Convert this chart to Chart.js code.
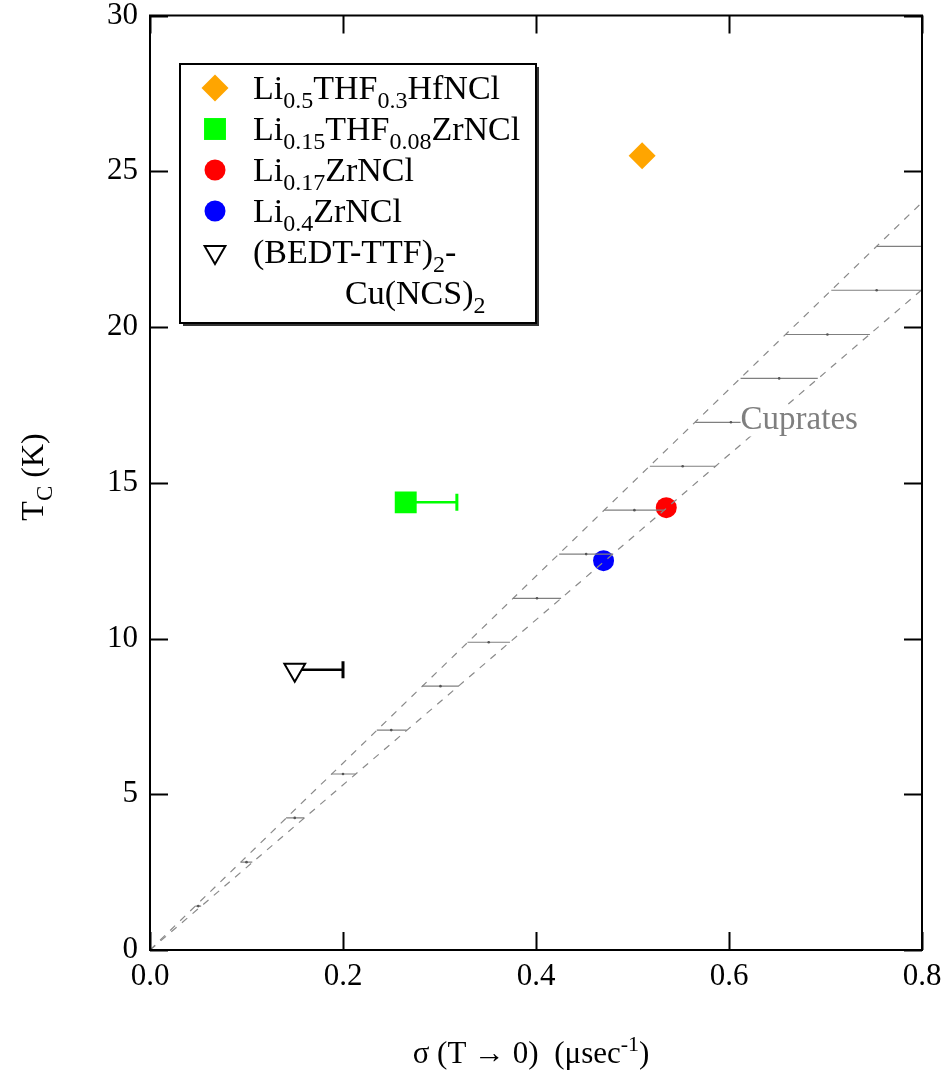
<!DOCTYPE html>
<html lang="en">
<head>
<meta charset="UTF-8">
<title>Tc versus muon relaxation rate</title>
<script src="https://cdn.jsdelivr.net/npm/chart.js"></script>
<style>
  body { margin: 0; background: #fff; }
  #wrap { width: 948px; height: 1074px; }
</style>
</head>
<body>
<div id="wrap"><canvas id="uemuraChart" width="948" height="1074"></canvas></div>
<script>
// sample legend text: each entry is a list of lines, each line a list of [text, 'sub'|undefined]
const sampleLabels = [
  [[['Li'], ['0.5', 'sub'], ['THF'], ['0.3', 'sub'], ['HfNCl']]],
  [[['Li'], ['0.15', 'sub'], ['THF'], ['0.08', 'sub'], ['ZrNCl']]],
  [[['Li'], ['0.17', 'sub'], ['ZrNCl']]],
  [[['Li'], ['0.4', 'sub'], ['ZrNCl']]],
  [[['(BEDT-TTF)'], ['2', 'sub'], ['-']], [['Cu(NCS)'], ['2', 'sub']]]
];
const sampleSigma = [0.51, 0.265, 0.535, 0.47, 0.15];
const sampleTc = [25.5, 14.37, 14.2, 12.5, 9.0];
const sampleSigmaErrEnd = [null, 0.318, null, null, 0.20];

// cuprate band
const bandSigma = [0, 0.8];
const bandUpperTc = [0, 24.0];
const bandLowerTc = [0, 21.2];
const cuprateTc = [1.41, 2.82, 4.24, 5.65, 7.06, 8.47, 9.88, 11.29, 12.71, 14.12, 15.53, 16.94, 18.35, 19.76, 21.18, 22.59];
const cuprateSigmaLo = [0.047, 0.094, 0.141, 0.188, 0.235, 0.282, 0.329, 0.376, 0.424, 0.471, 0.518, 0.565, 0.612, 0.659, 0.706, 0.753];
const cuprateSigmaMid = [0.050, 0.100, 0.150, 0.200, 0.250, 0.301, 0.351, 0.401, 0.452, 0.502, 0.552, 0.602, 0.652, 0.702, 0.753, 0.803];
const cuprateSigmaHi = [0.053, 0.106, 0.160, 0.213, 0.266, 0.320, 0.373, 0.426, 0.480, 0.533, 0.586, 0.639, 0.692, 0.746, 0.799, 0.852];

const xTickLabels = ['0.0', '0.2', '0.4', '0.6', '0.8'];
const yTickLabels = ['0', '5', '10', '15', '20', '25', '30'];

const SERIF = "'Liberation Serif', 'Times New Roman', serif";
const GRAY = '#7f7f7f';

// marker look per sample (same order as data)
const markers = [
  { style: 'rectRot', radius: 13.5, color: '#ffa500', fill: '#ffa500', rotation: 0, border: 0 },
  { style: 'rect', radius: 15.5, color: '#00ff00', fill: '#00ff00', rotation: 0, border: 0 },
  { style: 'circle', radius: 10.5, color: '#ff0000', fill: '#ff0000', rotation: 0, border: 0 },
  { style: 'circle', radius: 10.5, color: '#0000ff', fill: '#0000ff', rotation: 0, border: 0 },
  { style: 'triangle', radius: 12, color: '#000000', fill: '#ffffff', rotation: 180, border: 2 }
];

const datasets = [];

// hatch lines of the cuprate band (drawn on top, like the original)
cuprateTc.forEach((tc, i) => {
  datasets.push({
    data: [
      { x: cuprateSigmaLo[i], y: tc },
      { x: cuprateSigmaMid[i], y: tc },
      { x: cuprateSigmaHi[i], y: tc }
    ],
    showLine: true,
    borderColor: GRAY,
    borderWidth: 1.2,
    pointRadius: [0, 1.3, 0],
    pointBackgroundColor: '#555',
    pointBorderWidth: 0
  });
});

[bandUpperTc, bandLowerTc].forEach(tcs => {
  datasets.push({
    data: bandSigma.map((s, i) => ({ x: s, y: tcs[i] })),
    showLine: true,
    borderColor: '#8a8a8a',
    borderWidth: 1.2,
    borderDash: [7, 7],
    pointRadius: 0
  });
});

// sample markers
sampleSigma.forEach((s, i) => {
  const m = markers[i];
  datasets.push({
    data: [{ x: s, y: sampleTc[i] }],
    pointStyle: m.style,
    pointRadius: m.radius,
    pointRotation: m.rotation,
    pointBackgroundColor: m.fill,
    pointBorderColor: m.color,
    pointBorderWidth: m.border
  });
});

// one-sided error bars
sampleSigma.forEach((s, i) => {
  if (sampleSigmaErrEnd[i] === null) return;
  const m = markers[i];
  datasets.push({
    data: [{ x: s, y: sampleTc[i] }, { x: sampleSigmaErrEnd[i], y: sampleTc[i] }],
    showLine: true,
    borderColor: m.color,
    borderWidth: 2.5,
    pointStyle: 'line',
    pointRotation: 90,
    pointRadius: [0, 8.5],
    pointBorderColor: m.color,
    pointBorderWidth: 3
  });
});

function fontOf(size) {
  return size + 'px ' + SERIF;
}

// draws text with sub/superscripts, baseline at y
function drawRich(ctx, parts, x, y, size, align) {
  const small = Math.round(size * 0.72);
  let total = 0;
  parts.forEach(p => {
    ctx.font = fontOf(p[1] ? small : size);
    total += ctx.measureText(p[0]).width;
  });
  let cx = align === 'center' ? x - total / 2 : x;
  ctx.textAlign = 'left';
  ctx.textBaseline = 'alphabetic';
  parts.forEach(p => {
    ctx.font = fontOf(p[1] ? small : size);
    let dy = 0;
    if (p[1] === 'sub') dy = size * 0.27;
    if (p[1] === 'sup') dy = -size * 0.38;
    ctx.fillText(p[0], cx, y + dy);
    cx += ctx.measureText(p[0]).width;
  });
}

const decorations = {
  id: 'decorations',
  afterDraw(chart) {
    const ctx = chart.ctx;
    const a = chart.chartArea;
    const xs = chart.scales.x;
    const ys = chart.scales.y;
    ctx.save();

    // frame
    ctx.strokeStyle = '#000';
    ctx.lineWidth = 2;
    ctx.strokeRect(a.left, a.top, a.right - a.left, a.bottom - a.top);

    // inward ticks on all four sides
    const tl = 18;
    ctx.beginPath();
    xs.ticks.forEach(t => {
      const px = Math.round(xs.getPixelForValue(t.value)) + 0.5;
      ctx.moveTo(px, a.bottom); ctx.lineTo(px, a.bottom - tl);
      ctx.moveTo(px, a.top); ctx.lineTo(px, a.top + tl);
    });
    ys.ticks.forEach(t => {
      const py = Math.round(ys.getPixelForValue(t.value)) + 0.5;
      ctx.moveTo(a.left, py); ctx.lineTo(a.left + tl, py);
      ctx.moveTo(a.right, py); ctx.lineTo(a.right - tl, py);
    });
    ctx.stroke();

    // "Cuprates" label on a white patch
    ctx.font = fontOf(33);
    ctx.textAlign = 'left';
    ctx.textBaseline = 'middle';
    const lx = xs.getPixelForValue(0.612);
    const ly = ys.getPixelForValue(17.0);
    const lw = ctx.measureText('Cuprates').width;
    ctx.fillStyle = '#fff';
    ctx.fillRect(lx, ly - 14, lw + 2, 30);
    ctx.fillStyle = GRAY;
    ctx.fillText('Cuprates', lx, ly);

    // axis titles
    ctx.fillStyle = '#000';
    drawRich(ctx, [['σ (T → 0)  (μsec'], ['-1', 'sup'], [')']], 531, 1063, 31, 'center');
    ctx.save();
    ctx.translate(43, 477);
    ctx.rotate(-Math.PI / 2);
    drawRich(ctx, [['T'], ['C', 'sub'], [' (K)']], 0, 0, 32, 'center');
    ctx.restore();

    // legend box with drop shadow
    const bx = 180, by = 64, bw = 356, bh = 259;
    ctx.fillStyle = '#333';
    ctx.fillRect(bx + 3, by + 3, bw, bh);
    ctx.fillStyle = '#fff';
    ctx.fillRect(bx, by, bw, bh);
    ctx.strokeStyle = '#000';
    ctx.lineWidth = 2;
    ctx.strokeRect(bx, by, bw, bh);

    let rowY = 88;
    sampleLabels.forEach((lines, i) => {
      const m = markers[i];
      ctx.fillStyle = m.fill;
      ctx.strokeStyle = m.color;
      ctx.lineWidth = m.border;
      Chart.helpers.drawPoint(ctx, {
        pointStyle: m.style,
        radius: m.radius,
        rotation: m.rotation,
        borderWidth: m.border
      }, 215, rowY);
      ctx.fillStyle = '#000';
      lines.forEach((parts, j) => {
        drawRich(ctx, parts, j === 0 ? 253 : 345, rowY + 11, 34, 'left');
        if (j < lines.length - 1) rowY += 41;
      });
      rowY += 41;
    });

    ctx.restore();
  }
};

new Chart(document.getElementById('uemuraChart'), {
  type: 'scatter',
  data: { datasets: datasets },
  options: {
    responsive: false,
    animation: false,
    events: [],
    layout: { padding: { top: 15, right: 26, left: 0, bottom: 0 } },
    plugins: { legend: { display: false }, tooltip: { enabled: false } },
    scales: {
      x: {
        type: 'linear',
        min: 0,
        max: 0.8,
        grid: { display: false, drawTicks: false },
        border: { display: false },
        ticks: {
          stepSize: 0.2,
          padding: 8,
          color: '#000',
          font: { family: SERIF, size: 31 },
          callback: (v, i) => xTickLabels[i]
        },
        afterFit: s => { s.height = 124; s.paddingLeft = 0; s.paddingRight = 0; }
      },
      y: {
        type: 'linear',
        min: 0,
        max: 30,
        grid: { display: false, drawTicks: false },
        border: { display: false },
        ticks: {
          stepSize: 5,
          padding: 12,
          color: '#000',
          font: { family: SERIF, size: 31 },
          callback: (v, i) => yTickLabels[i]
        },
        afterFit: s => { s.width = 150; s.paddingTop = 0; s.paddingBottom = 0; }
      }
    }
  },
  plugins: [decorations]
});
</script>
</body>
</html>
